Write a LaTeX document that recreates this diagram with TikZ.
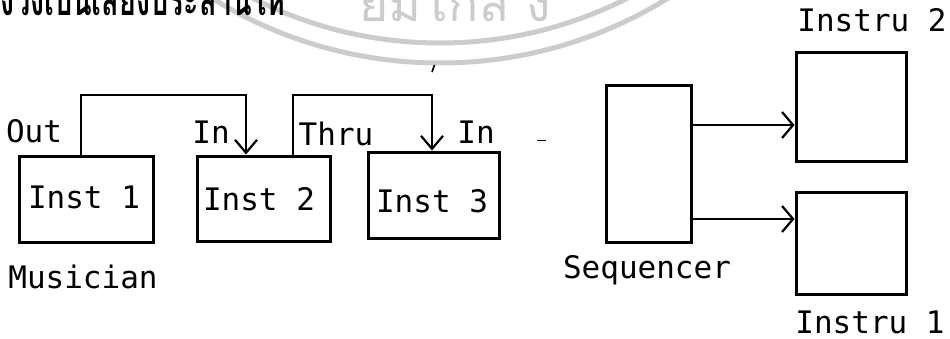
\documentclass[tikz,border=0pt]{standalone}
\usepackage{fontspec}
\usepackage{graphicx}
\setmonofont{DejaVu Sans Mono}
\newfontfamily\thaifont[Script=Thai]{Loma}
\usetikzlibrary{arrows.meta}
\begin{document}
\begin{tikzpicture}[x=1pt,y=1pt,
  frame/.style={draw, line width=3pt, inner sep=0pt},
  wire/.style={line width=2.5pt},
  vtip/.style={-{Straight Barb[length=13pt,width=22pt,line width=2.2pt]}},
  htip/.style={-{Straight Barb[length=11pt,width=26pt,line width=2.2pt]}},
  tag/.style={font=\ttfamily\fontsize{31}{31}\selectfont, inner sep=0pt, anchor=base},
  ghost/.style={line width=5pt, draw=black!20},
]
\useasboundingbox (0,0) rectangle (950,338);

% faint seal in the background and the clipped heading line
\begin{scope}
  \clip (0,0) rectangle (950,338);
  \draw[ghost] (440,708) circle (433pt);
  \draw[ghost] (440,708) circle (413pt);
  \node[anchor=base, inner sep=0pt, text=black!20] (seal) at (455,316)
    {\thaifont\fontsize{50}{50}\selectfont ยมโกล ง};
  \node[anchor=base west, inner sep=0pt] (head) at (0,322)
    {\resizebox{285pt}{!}{\scalebox{1}[1.5]{\thaifont\bfseries งวงเป็นเสียงประสานให้}}};
\end{scope}

% instruments chained by MIDI
\node[frame, minimum width=134pt, minimum height=86pt] (inst1) at (86,139) {};
\node[frame, minimum width=133pt, minimum height=85pt] (inst2) at (263.5,139.5) {};
\node[frame, minimum width=131pt, minimum height=86pt] (inst3) at (433.5,143) {};
\node[tag] (t1) at (84,130) {Inst 1};
\node[tag] (t2) at (259,128) {Inst 2};
\node[tag] (t3) at (432,126) {Inst 3};

\draw[wire, vtip] (inst1.north -| 81,0) |- (246,243) -- (inst2.north -| 246,0);
\draw[wire, vtip] (inst2.north -| 293,0) |- (432,243) -- (inst3.north -| 432,0);

\node[tag] (out) at (34,196) {Out};
\node[tag] (in2) at (211,195) {In};
\node[tag] (thru) at (336,193) {Thru};
\node[tag] (in3) at (476,195) {In};
\node[tag] (mus) at (83,50) {Musician};

% sequencer driving two instruments
\node[frame, minimum width=85pt, minimum height=156pt] (seq) at (648.5,174) {};
\node[frame, minimum width=110pt, minimum height=108pt] (ins2) at (851,231) {};
\node[frame, minimum width=110pt, minimum height=102pt] (ins1) at (851,95) {};

\draw[wire, htip] (seq.east |- 0,213) -- (ins2.west |- 0,213);
\draw[wire, htip] (seq.east |- 0,119) -- (ins1.west |- 0,119);

\node[tag] (seqlbl) at (647,60) {Sequencer};
\node[tag] (lbl2) at (872,306) {Instru 2};
\node[tag] (lbl1) at (870,5) {Instru 1};

% stray specks
\draw[line width=1.6pt] (434.5,273) -- (432,266);
\draw[line width=1pt] (537,198) -- (546,198);
\end{tikzpicture}
\end{document}
